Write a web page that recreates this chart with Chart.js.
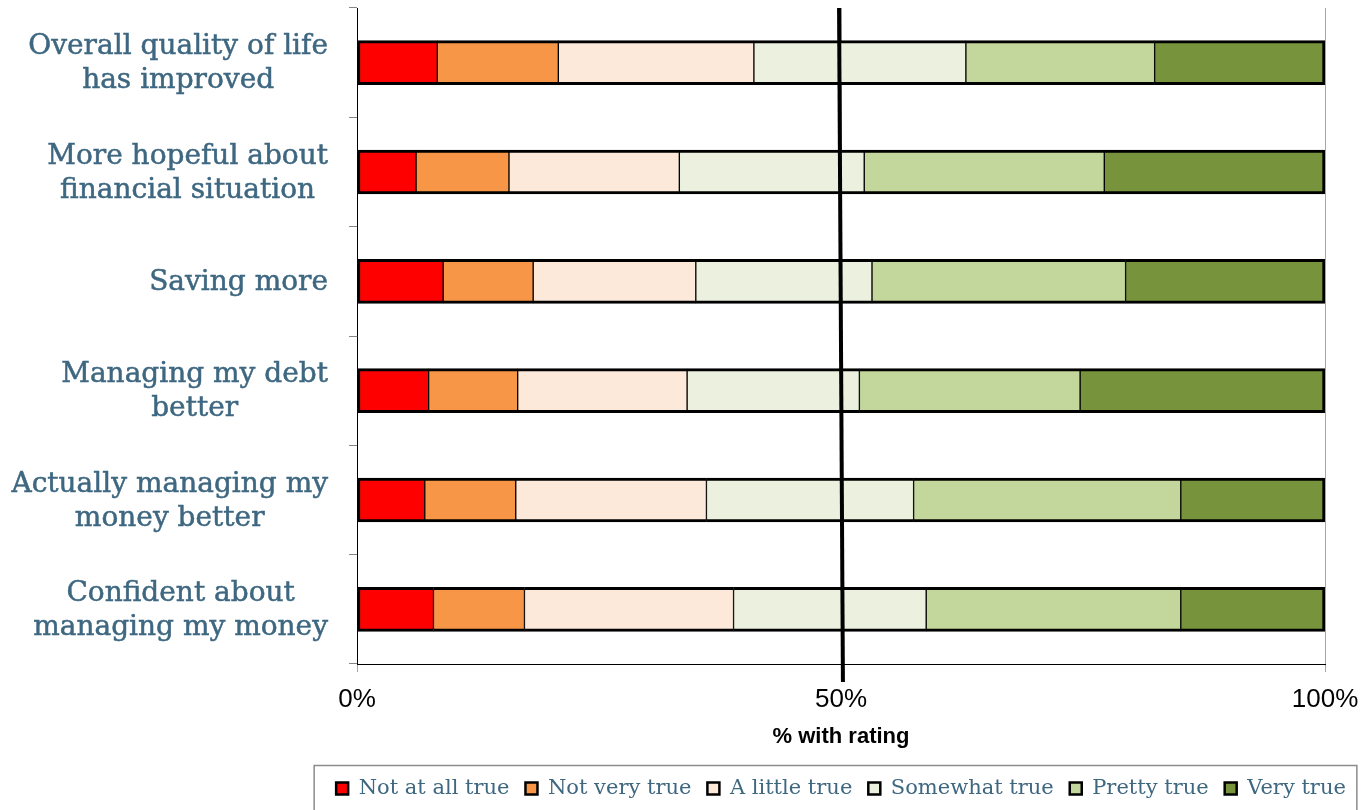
<!DOCTYPE html>
<html>
<head>
<meta charset="utf-8">
<script src="https://cdn.jsdelivr.net/npm/chart.js@4.4.1/dist/chart.umd.min.js"></script>
<style>
  html, body { margin: 0; padding: 0; background: #fff; }
  #wrap { width: 1367px; height: 810px; }
</style>
</head>
<body>
<div id="wrap"><canvas id="ratingChart"></canvas></div>
<script>
const statements = [
  ["Overall quality of life", "has improved"],
  ["More hopeful about", "financial situation"],
  ["Saving more"],
  ["Managing my debt", "better"],
  ["Actually managing my", "money better"],
  ["Confident about", "managing my money"]
];
const ratingLabels = ["Not at all true", "Not very true", "A little true", "Somewhat true", "Pretty true", "Very true"];
const ratingColors = ["#ff0000", "#f79646", "#fde9d9", "#ebf1de", "#c3d69b", "#77933c"];

// % of respondents giving each rating, in statement order
const notAtAllTrue = [8.3, 6.1, 8.9, 7.4, 7.0, 7.9];
const notVeryTrue  = [12.5, 9.6, 9.3, 9.2, 9.4, 9.4];
const aLittleTrue  = [20.2, 17.6, 16.8, 17.5, 19.7, 21.6];
const somewhatTrue = [21.9, 19.1, 18.2, 17.8, 21.4, 19.9];
const prettyTrue   = [19.5, 24.8, 26.2, 22.8, 27.6, 26.3];
const veryTrue     = [17.6, 22.8, 20.6, 25.3, 14.9, 14.9];

const xTickValues = [0, 50, 100];

const labelColor = "#3e6780";
const seriesValues = [notAtAllTrue, notVeryTrue, aLittleTrue, somewhatTrue, prettyTrue, veryTrue];

// statement labels: block right aligned against the axis, lines centred inside the block
const statementLabels = {
  id: "statementLabels",
  afterDraw(chart) {
    const { ctx } = chart;
    const y = chart.scales.y;
    ctx.save();
    ctx.font = "28px 'DejaVu Serif'";
    ctx.fillStyle = labelColor;
    ctx.strokeStyle = labelColor;
    ctx.lineWidth = 0.5;
    ctx.textAlign = "center";
    ctx.textBaseline = "middle";
    statements.forEach((lines, i) => {
      const cy = y.getPixelForValue(i) + 1.5;
      const w = Math.max(...lines.map(l => ctx.measureText(l).width));
      const cx = y.right - 29 - w / 2;
      lines.forEach((line, j) => {
        const ly = cy + (j - (lines.length - 1) / 2) * 34;
        ctx.fillText(line, cx, ly);
        ctx.strokeText(line, cx, ly);
      });
    });
    ctx.restore();
  }
};

// thick black reference line at 50%
const midLine = {
  id: "midLine",
  afterDatasetsDraw(chart) {
    const { ctx, chartArea } = chart;
    const x = chart.scales.x;
    ctx.save();
    ctx.strokeStyle = "#000";
    ctx.lineWidth = 4;
    ctx.beginPath();
    ctx.moveTo(x.getPixelForValue(49.8), chartArea.top);
    ctx.lineTo(x.getPixelForValue(50.2), chartArea.bottom + 18);
    ctx.stroke();
    ctx.restore();
  }
};

// keep the legend on one row, centred under the plot, with a fixed height
const legendRow = {
  id: "legendRow",
  beforeInit(chart) {
    const legend = chart.legend;
    const fit = legend.fit;
    legend.fit = function () {
      this.maxWidth = 1100;
      fit.call(this);
      this.height = 48;
    };
  },
  afterLayout(chart) {
    const legend = chart.legend;
    const c = (chart.chartArea.left + chart.chartArea.right) / 2;
    legend.left = c - 600;
    legend.right = c + 600;
    legend.width = 1200;
  }
};

// grey frame round the legend items
const legendFrame = {
  id: "legendFrame",
  afterDraw(chart) {
    const boxes = chart.legend.legendHitBoxes;
    if (!boxes || !boxes.length) return;
    const left = Math.min(...boxes.map(b => b.left)) - 22;
    const right = Math.max(...boxes.map(b => b.left + b.width)) + 11;
    const top = Math.min(...boxes.map(b => b.top + b.height / 2)) - 23;
    const { ctx } = chart;
    ctx.save();
    ctx.strokeStyle = "#8c8c8c";
    ctx.lineWidth = 1.5;
    ctx.strokeRect(left, top, right - left, chart.height + 10 - top);
    ctx.restore();
  }
};

const datasets = ratingLabels.map((label, i) => ({
  label: label,
  data: seriesValues[i],
  backgroundColor: ratingColors[i],
  borderColor: "#000",
  borderWidth: { top: 3, bottom: 3, left: i === 0 ? 3 : 1, right: i === ratingLabels.length - 1 ? 3 : 1 },
  borderSkipped: false,
  barThickness: 44
}));

new Chart(document.getElementById("ratingChart"), {
  type: "bar",
  data: {
    labels: statements.map(s => s.join(" ")),
    datasets: datasets
  },
  options: {
    indexAxis: "y",
    responsive: true,
    maintainAspectRatio: false,
    animation: false,
    layout: { padding: { top: 8, right: 42, left: 0, bottom: 0 } },
    plugins: {
      tooltip: { enabled: false },
      legend: {
        position: "bottom",
        fullSize: false,
        labels: {
          color: labelColor,
          font: { family: "'DejaVu Serif'", size: 21 },
          boxWidth: 12,
          boxHeight: 12,
          padding: 16,
          generateLabels: chart => Chart.defaults.plugins.legend.labels.generateLabels(chart)
            .map(item => Object.assign(item, { lineWidth: 2.5, strokeStyle: "#000" }))
        }
      }
    },
    scales: {
      x: {
        type: "linear",
        stacked: true,
        min: 0,
        max: 100,
        afterBuildTicks: scale => { scale.ticks = xTickValues.map(v => ({ value: v })); },
        afterFit: scale => {
          scale.height = 98;
          scale.paddingLeft = 0;
          scale.paddingRight = 0;
        },
        ticks: {
          color: "#000",
          font: { family: "'Liberation Sans'", size: 26 },
          padding: 12,
          callback: v => v + "%"
        },
        grid: { color: "#a6a6a6", tickLength: 8 },
        border: { color: "#000", width: 1 },
        title: {
          display: true,
          text: "% with rating",
          color: "#000",
          font: { family: "'Liberation Sans'", size: 22, weight: "bold" },
          padding: { top: 0, bottom: 12 }
        }
      },
      y: {
        stacked: true,
        ticks: { display: false },
        afterFit: scale => { scale.width = 357; },
        grid: { drawOnChartArea: false, color: "#868686", tickLength: 8, offset: true },
        border: { color: "#000", width: 1 }
      }
    }
  },
  plugins: [statementLabels, midLine, legendRow, legendFrame]
});
</script>
</body>
</html>
